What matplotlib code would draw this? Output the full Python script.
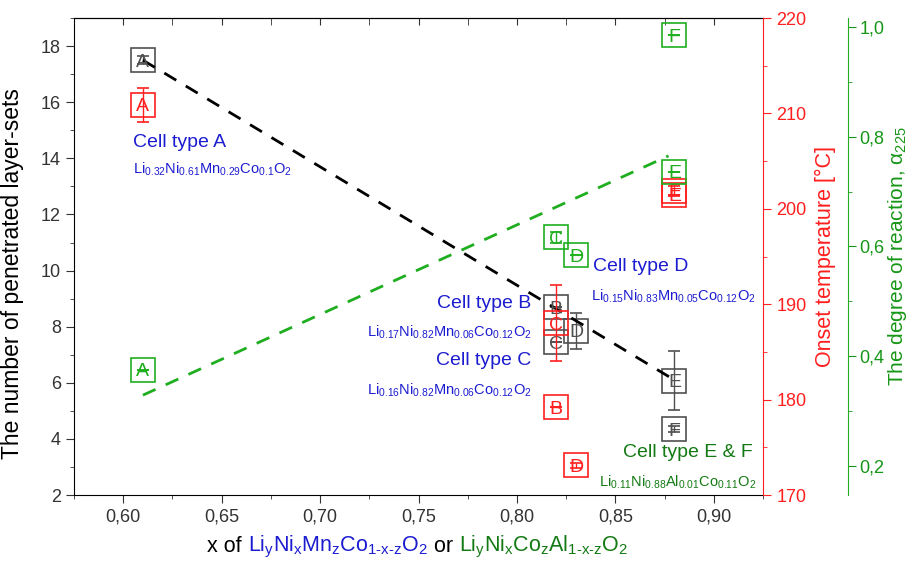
import matplotlib
matplotlib.use("Agg")
import matplotlib.pyplot as plt
from matplotlib.ticker import MultipleLocator, FuncFormatter
from matplotlib.offsetbox import TextArea, HPacker, AnchoredOffsetbox

plt.rcParams['font.family'] = ['Liberation Sans', 'DejaVu Sans']
plt.rcParams['mathtext.fontset'] = 'custom'
plt.rcParams['mathtext.rm'] = 'Liberation Sans'
plt.rcParams['mathtext.it'] = 'Liberation Sans:italic'

# penetrated layer-sets (left axis)
layer_x = [0.61, 0.82, 0.82, 0.83, 0.88, 0.88]
layer_y = [17.5, 8.7, 7.45, 7.85, 6.07, 4.35]
layer_err = [0.15, 0.0, 0.0, 0.65, 1.05, 0.1]
layer_lbl = ["A", "B", "C", "D", "E", "F"]
layer_fit_x = [0.61, 0.88]
layer_fit_y = [17.5, 6.1]

# onset temperature (red axis)
onset_x = [0.61, 0.82, 0.82, 0.83, 0.88, 0.88]
onset_y = [210.9, 179.2, 188.0, 173.1, 201.9, 201.5]
onset_err = [1.8, 0.0, 4.0, 0.3, 0.5, 0.0]
onset_lbl = ["A", "B", "C", "D", "F", "E"]

# degree of reaction (green axis)
alpha_x = [0.61, 0.82, 0.83, 0.88, 0.88]
alpha_y = [0.375, 0.617, 0.584, 0.736, 0.985]
alpha_err = [0.0, 0.01, 0.0, 0.0, 0.0]
alpha_lbl = ["A", "C", "D", "E", "F"]
alpha_fit_x = [0.61, 0.877]
alpha_fit_y = [0.329, 0.765]

GRAY = "#505050"
RED = "#ff1f1f"
GREEN = "#1fae1f"
DGREEN = "#137a13"
BLUE = "#1c1cd0"


def comma(v, pos, nd=2):
    return f"{v:.{nd}f}".replace(".", ",")


def boxes(axis, xs, ys, errs, letters, color):
    axis.errorbar(xs, ys, yerr=errs, fmt="s", ms=17, mfc="none", mec=color,
                  mew=1.2, ecolor=color, elinewidth=1, capsize=4, ls="none")
    for x, y, s in zip(xs, ys, letters):
        axis.text(x, y, s, color=color, ha="center", va="center_baseline", fontsize=14)


fig = plt.figure(figsize=(9.15, 5.66), dpi=100)
ax = fig.add_axes([0.0809, 0.1254, 0.7530, 0.8426])

ax.set_xlim(0.575, 0.925)
ax.set_ylim(2, 19)
ax.xaxis.set_major_locator(MultipleLocator(0.05))
ax.xaxis.set_minor_locator(MultipleLocator(0.025))
ax.xaxis.set_major_formatter(FuncFormatter(comma))
ax.yaxis.set_major_locator(MultipleLocator(2))
ax.yaxis.set_minor_locator(MultipleLocator(1))
ax.tick_params(which="major", length=6, labelsize=13, colors="#333333")
ax.tick_params(which="minor", length=3, colors="#333333")
ax.spines["right"].set_visible(False)
ax.set_ylabel("The number of penetrated layer-sets", fontsize=16.5)
ax.yaxis.set_label_coords(-0.072, 0.465)

top = ax.secondary_xaxis("top")
top.xaxis.set_major_locator(MultipleLocator(0.05))
top.xaxis.set_minor_locator(MultipleLocator(0.025))
top.tick_params(which="both", direction="in", length=5, labeltop=False, colors="#333333")

ax.plot(layer_fit_x, layer_fit_y, color="black", lw=2, ls=(0, (5, 4)), zorder=3)
boxes(ax, layer_x, layer_y, layer_err, layer_lbl, GRAY)

# red axis
ax2 = ax.twinx()
ax2.set_ylim(170, 220)
ax2.yaxis.set_major_locator(MultipleLocator(10))
ax2.yaxis.set_minor_locator(MultipleLocator(5))
for s in ["left", "top", "bottom"]:
    ax2.spines[s].set_visible(False)
ax2.spines["right"].set_color(RED)
ax2.tick_params(which="major", length=6, labelsize=13, colors=RED)
ax2.tick_params(which="minor", length=3, colors=RED)
ax2.set_ylabel("Onset temperature [°C]", fontsize=15.5, color=RED, labelpad=6)
boxes(ax2, onset_x, onset_y, onset_err, onset_lbl, RED)

# green axis
ax3 = ax.twinx()
ax3.set_ylim(0.147, 1.016)
ax3.spines["right"].set_position(("axes", 1.124))
for s in ["left", "top", "bottom"]:
    ax3.spines[s].set_visible(False)
ax3.spines["right"].set_color(GREEN)
ax3.yaxis.set_major_locator(MultipleLocator(0.2))
ax3.yaxis.set_minor_locator(MultipleLocator(0.1))
ax3.yaxis.set_major_formatter(FuncFormatter(lambda v, p: comma(v, p, 1)))
ax3.tick_params(which="major", length=6, labelsize=13, colors="#169616", pad=2)
ax3.tick_params(which="minor", length=3, colors="#169616")
ax3.set_ylabel("The degree of reaction, α$_{225}$", fontsize=15, color="#169616", labelpad=1)
ax3.plot(alpha_fit_x, alpha_fit_y, color=GREEN, lw=2, ls=(0, (5, 4)))
boxes(ax3, alpha_x, alpha_y, alpha_err, alpha_lbl, GREEN)

# cell type annotations
ax.text(0.605, 14.55, "Cell type A", color=BLUE, fontsize=14, ha="left", va="center")
ax.text(0.605, 13.6, r"Li$_{0.32}$Ni$_{0.61}$Mn$_{0.29}$Co$_{0.1}$O$_{2}$", color=BLUE,
        fontsize=10.5, ha="left", va="center")
ax.text(0.8074, 8.84, "Cell type B", color=BLUE, fontsize=14, ha="right", va="center")
ax.text(0.8074, 7.8, r"Li$_{0.17}$Ni$_{0.82}$Mn$_{0.06}$Co$_{0.12}$O$_{2}$", color=BLUE,
        fontsize=10.5, ha="right", va="center")
ax.text(0.8074, 6.81, "Cell type C", color=BLUE, fontsize=14, ha="right", va="center")
ax.text(0.8074, 5.74, r"Li$_{0.16}$Ni$_{0.82}$Mn$_{0.06}$Co$_{0.12}$O$_{2}$", color=BLUE,
        fontsize=10.5, ha="right", va="center")
ax.text(0.8384, 10.16, "Cell type D", color=BLUE, fontsize=14, ha="left", va="center")
ax.text(0.8374, 9.1, r"Li$_{0.15}$Ni$_{0.83}$Mn$_{0.05}$Co$_{0.12}$O$_{2}$", color=BLUE,
        fontsize=10.5, ha="left", va="center")
ax.text(0.9198, 3.5, "Cell type E & F", color=DGREEN, fontsize=14, ha="right", va="center")
ax.text(0.9218, 2.45, r"Li$_{0.11}$Ni$_{0.88}$Al$_{0.01}$Co$_{0.11}$O$_{2}$", color=DGREEN,
        fontsize=10.5, ha="right", va="center")

# multicolour x label
parts = [
    TextArea("x of ", textprops=dict(color="black", size=15.5)),
    TextArea(r"Li$_\mathrm{y}$Ni$_\mathrm{x}$Mn$_\mathrm{z}$Co$_{\text{1-x-z}}$O$_2$",
             textprops=dict(color=BLUE, size=15.5)),
    TextArea(" or ", textprops=dict(color="black", size=15.5)),
    TextArea(r"Li$_\mathrm{y}$Ni$_\mathrm{x}$Co$_\mathrm{z}$Al$_{\text{1-x-z}}$O$_2$",
             textprops=dict(color=DGREEN, size=15.5)),
]
box = HPacker(children=parts, align="baseline", pad=0, sep=0)
anch = AnchoredOffsetbox(loc="center", child=box, pad=0, frameon=False,
                         bbox_to_anchor=(418 / 915, 0.033), bbox_transform=fig.transFigure)
fig.add_artist(anch)

fig.savefig("out.png", dpi=100)
